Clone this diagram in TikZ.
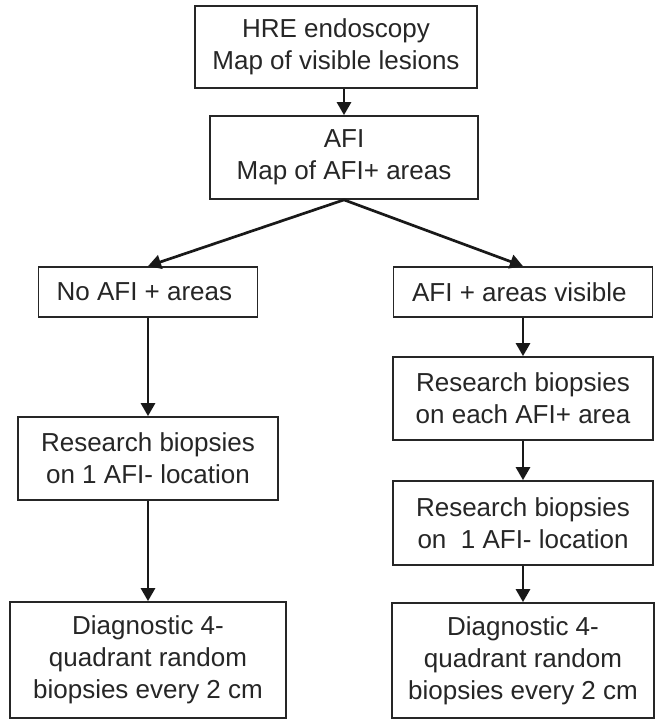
\documentclass[tikz,border=0pt]{standalone}
\usepackage{fontspec}
\setmainfont{Liberation Sans}
\usetikzlibrary{arrows.meta, positioning}

\begin{document}
\begin{tikzpicture}[
  x=1pt, y=-1pt,
  every node/.style = {font=\fontsize{26}{32}\selectfont, text=black!85},
  flowbox/.style    = {rectangle, draw=black!85, line width=1.7pt,
                       fill=white, align=center, inner sep=0pt,
                       minimum width=#1},
  arr/.style        = {-{Triangle[length=13pt, width=14pt]},
                       line width=2.7pt, black!90},
]
\useasboundingbox (0,0) rectangle (655,720);

%% ══ TOP: endoscopy and AFI ═══════════════════════════════════════════════
\node[flowbox=282pt, minimum height=82pt] at (336, 47) (hre) {
  HRE endoscopy\\Map of visible lesions
};

\node[flowbox=268pt, minimum height=83pt] at (344, 157.5) (afi) {
  AFI\\Map of AFI+ areas
};

\draw[arr] (hre.south -| afi.south) -- (afi.north);

%% ══ LEFT BRANCH: no AFI+ areas ═══════════════════════════════════════════
\node[flowbox=219pt, minimum height=50pt] at (148, 292) (noafi) {
  No AFI + areas
};

\node[flowbox=260pt, minimum height=83pt] at (148, 458.5) (resleft) {
  Research biopsies\\on 1 AFI- location
};

\node[flowbox=276pt, minimum height=116pt] at (148, 660) (diagleft) {
  Diagnostic 4-\\quadrant random\\biopsies every 2 cm
};

\draw[arr] (afi.south) -- (noafi.north);
\draw[arr] (noafi)     -- (resleft);
\draw[arr] (resleft)   -- (diagleft);

%% ══ RIGHT BRANCH: AFI+ areas visible ═════════════════════════════════════
\node[flowbox=259pt, minimum height=50pt] at (523, 292) (afivis) {
  AFI + areas visible
};

\node[flowbox=260pt, minimum height=83pt] at (523, 398.5) (researea) {
  Research biopsies\\on each AFI+ area
};

\node[flowbox=260pt, minimum height=84pt] at (523, 523) (resright) {
  Research biopsies\\on\ \ 1 AFI- location
};

\node[flowbox=262pt, minimum height=115pt] at (523, 660.5) (diagright) {
  Diagnostic 4-\\quadrant random\\biopsies every 2 cm
};

\draw[arr] (afi.south) -- (afivis.north);
\draw[arr] (afivis)    -- (researea);
\draw[arr] (researea)  -- (resright);
\draw[arr] (resright)  -- (diagright);

\end{tikzpicture}
\end{document}
